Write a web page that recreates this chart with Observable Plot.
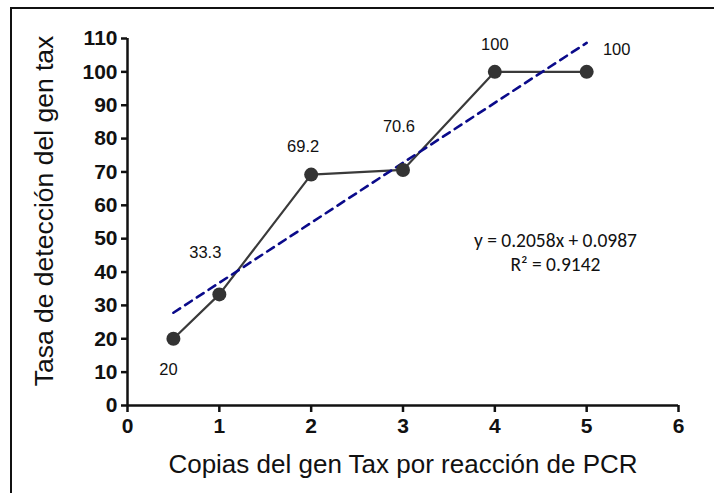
<!DOCTYPE html>
<html>
<head>
<meta charset="utf-8">
<script src="https://cdn.jsdelivr.net/npm/d3@7"></script>
<script src="https://cdn.jsdelivr.net/npm/@observablehq/plot@0.6"></script>
<style>
  html, body { margin: 0; padding: 0; background: #fff; }
  #wrap { position: relative; width: 714px; height: 493px; overflow: hidden; }
  #border { position: absolute; left: 10px; top: 7px; width: 720px; height: 500px;
            border-left: 2px solid #111; border-top: 2px solid #111; pointer-events: none; }
</style>
</head>
<body>
<div id="wrap"><div id="border"></div></div>
<script>
// Data
const copies = [0.5, 1, 2, 3, 4, 5];
const detection = [20, 33.3, 69.2, 70.6, 100, 100];
const labels = ["20", "33.3", "69.2", "70.6", "100", "100"];
const trendX = [0.5, 5];
const trendY = [27.8, 108.7];
const xTicks = [0, 1, 2, 3, 4, 5, 6];
const yTicks = [0, 10, 20, 30, 40, 50, 60, 70, 80, 90, 100, 110];
const equation = "y = 0.2058x + 0.0987";
const r2 = "R² = 0.9142";
const xLabel = "Copias del gen Tax por reacción de PCR";
const yLabel = "Tasa de detección del gen tax";

// label offsets (styling)
const labelOffsets = [[-5, 31], [-14, -42], [-8, -28], [-4, -43], [0, -27], [30, -22]];

const pts = copies.map((x, i) => ({x, y: detection[i], label: labels[i], i}));
const trend = trendX.map((x, i) => ({x, y: trendY[i]}));

const labelMarks = pts.map((d, i) => Plot.text([d], {
  x: "x", y: "y", text: "label",
  dx: labelOffsets[i][0], dy: labelOffsets[i][1],
  fontSize: 16.5, fill: "#111", fontFamily: "Liberation Sans, Arial, sans-serif"
}));

const chart = Plot.plot({
  width: 714,
  height: 493,
  marginLeft: 127,
  marginRight: 36,
  marginTop: 38,
  marginBottom: 88,
  style: { fontFamily: "Liberation Sans, Arial, sans-serif", background: "transparent", overflow: "visible" },
  x: { domain: [0, 6], ticks: xTicks },
  y: { domain: [0, 110], ticks: yTicks },
  marks: [
    Plot.axisX({
      ticks: xTicks, tickFormat: "d", tickSize: 7, tickPadding: 6, strokeWidth: 2.5, stroke: "#111",
      fontSize: 21, fontWeight: "bold", fill: "#111",
      label: null
    }),
    Plot.axisY({
      ticks: yTicks, tickFormat: "d", tickSize: 6, tickPadding: 4, strokeWidth: 2.5, stroke: "#111",
      fontSize: 21, fontWeight: "bold", fill: "#111",
      label: null
    }),
    Plot.ruleY([0], { stroke: "#111", strokeWidth: 2.5 }),
    Plot.ruleX([0], { stroke: "#111", strokeWidth: 2.5 }),
    Plot.line(pts, { x: "x", y: "y", stroke: "#3a3a3a", strokeWidth: 2.2 }),
    Plot.line(trend, { x: "x", y: "y", stroke: "#0a0a8a", strokeWidth: 2.6, strokeDasharray: "8,6" }),
    Plot.dot(pts, { x: "x", y: "y", r: 7, fill: "#333", stroke: "none" }),
    ...labelMarks,
    Plot.text([{x: 4.66, y: 52.8, t: equation + "\n" + r2}], {
      x: "x", y: "y", text: "t", lineHeight: 1.25, lineAnchor: "top",
      fontSize: 19.5, fill: "#111", fontFamily: "Carlito, Lato, Open Sans, sans-serif"
    }),
    Plot.text([{x: 3, t: xLabel}], {
      x: "x", frameAnchor: "bottom", text: "t", dy: 59, lineAnchor: "middle",
      fontSize: 26, fill: "#111"
    }),
    Plot.text([{y: 58.3, t: yLabel}], {
      y: "y", frameAnchor: "left", text: "t", rotate: -90, dx: -83, textAnchor: "middle",
      lineAnchor: "middle", fontSize: 26.5, fill: "#111"
    })
  ]
});
document.getElementById("wrap").prepend(chart);
</script>
</body>
</html>
